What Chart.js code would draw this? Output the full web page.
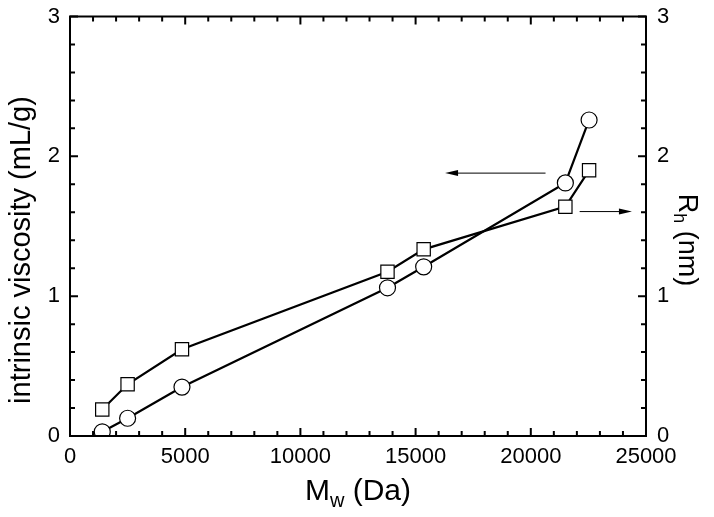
<!DOCTYPE html>
<html>
<head>
<meta charset="utf-8">
<script src="https://cdn.jsdelivr.net/npm/chart.js@4.4.1/dist/chart.umd.min.js"></script>
<style>
  html, body { margin: 0; padding: 0; background: #fff; }
  #wrap { width: 714px; height: 517px; }
</style>
</head>
<body>
<div id="wrap"><canvas id="chart"></canvas></div>
<script>
// intrinsic viscosity (left axis, circles)
var viscMw = [1400, 2500, 4860, 13780, 15350, 21500, 22530];
var viscValues = [0.03, 0.127, 0.35, 1.06, 1.21, 1.81, 2.26];
// hydrodynamic radius (right axis, squares)
var rhMw = [1400, 2500, 4860, 13780, 15350, 21500, 22530];
var rhValues = [0.19, 0.37, 0.62, 1.175, 1.335, 1.64, 1.90];
var xTicks = [0, 5000, 10000, 15000, 20000, 25000];
var yTicks = [0, 1, 2, 3];
// arrows pointing to each series' axis (data units)
var arrowLeft = { x1: 20640, x2: 16280, y: 1.88 };
var arrowRight = { x1: 22120, x2: 24390, y: 1.605 };

var FONT = "'Liberation Sans', Arial, sans-serif";

function toPoints(xs, ys) {
    return xs.map(function (x, i) { return { x: x, y: ys[i] }; });
}

var framePlugin = {
    id: 'frame',
    afterDatasetsDraw: function (chart) {
        var ctx = chart.ctx, a = chart.chartArea;
        var xs = chart.scales.x, ys = chart.scales.y;
        ctx.save();
        ctx.strokeStyle = '#000';
        ctx.lineWidth = 2;
        ctx.strokeRect(a.left, a.top, a.right - a.left, a.bottom - a.top);
        ctx.beginPath();
        var v, p, len;
        for (v = 0; v <= 25000; v += 1000) {
            p = xs.getPixelForValue(v);
            len = v % 5000 === 0 ? 8 : 5;
            ctx.moveTo(p, a.bottom); ctx.lineTo(p, a.bottom - len);
            ctx.moveTo(p, a.top); ctx.lineTo(p, a.top + len);
        }
        for (var k = 0; k <= 15; k++) {
            p = ys.getPixelForValue(k * 0.2);
            len = k % 5 === 0 ? 8 : 5;
            ctx.moveTo(a.left, p); ctx.lineTo(a.left + len, p);
            ctx.moveTo(a.right, p); ctx.lineTo(a.right - len, p);
        }
        ctx.stroke();

        // arrows
        ctx.lineWidth = 1;
        ctx.fillStyle = '#000';
        [arrowLeft, arrowRight].forEach(function (ar) {
            var px1 = xs.getPixelForValue(ar.x1), px2 = xs.getPixelForValue(ar.x2);
            var py = ys.getPixelForValue(ar.y);
            var dir = px2 > px1 ? 1 : -1;
            ctx.beginPath();
            ctx.moveTo(px1, py); ctx.lineTo(px2 - dir * 8, py);
            ctx.stroke();
            ctx.beginPath();
            ctx.moveTo(px2, py);
            ctx.lineTo(px2 - dir * 13, py - 3);
            ctx.lineTo(px2 - dir * 13, py + 3);
            ctx.closePath();
            ctx.fill();
        });

        // axis titles with subscripts
        ctx.fillStyle = '#000';
        ctx.textBaseline = 'alphabetic';
        var big = '30px ' + FONT, small = '20px ' + FONT;
        // x title: M_w (Da)
        ctx.font = big;
        var wM = ctx.measureText('M').width;
        var wRest = ctx.measureText(' (Da)').width;
        ctx.font = small;
        var wSub = ctx.measureText('w').width;
        var tx = (a.left + a.right) / 2 - (wM + wSub + wRest) / 2;
        var ty = 500;
        ctx.font = big; ctx.textAlign = 'left';
        ctx.fillText('M', tx, ty);
        ctx.font = small;
        ctx.fillText('w', tx + wM, ty + 7);
        ctx.font = big;
        ctx.fillText(' (Da)', tx + wM + wSub, ty);

        // left title
        ctx.save();
        ctx.translate(30, 250);
        ctx.rotate(-Math.PI / 2);
        ctx.font = '29px ' + FONT; ctx.textAlign = 'center';
        ctx.fillText('intrinsic viscosity (mL/g)', 0, 0);
        ctx.restore();

        // right title: R_h (nm), rotated clockwise
        var rBig = '27px ' + FONT, rSmall = '18px ' + FONT;
        ctx.save();
        ctx.translate(679, 240);
        ctx.rotate(Math.PI / 2);
        ctx.font = rBig;
        var wR = ctx.measureText('R').width, wNm = ctx.measureText(' (nm)').width;
        ctx.font = rSmall;
        var wH = ctx.measureText('h').width;
        var sx = -(wR + wH + wNm) / 2;
        ctx.textAlign = 'left';
        ctx.font = rBig; ctx.fillText('R', sx, 0);
        ctx.font = rSmall; ctx.fillText('h', sx + wR, 5);
        ctx.font = rBig; ctx.fillText(' (nm)', sx + wR + wH, 0);
        ctx.restore();
        ctx.restore();
    }
};

var tickFont = { family: FONT, size: 22 };
var yTickFont = { family: FONT, size: 22, lineHeight: 0.5 };
function plain(v) { return String(v); }

new Chart(document.getElementById('chart'), {
    type: 'scatter',
    data: {
        datasets: [
            {
                label: 'intrinsic viscosity',
                data: toPoints(viscMw, viscValues),
                yAxisID: 'y',
                showLine: true,
                borderColor: '#000',
                borderWidth: 2.2,
                pointStyle: 'circle',
                pointRadius: 8,
                pointBorderWidth: 1.2,
                pointBackgroundColor: '#fff',
                pointBorderColor: '#000'
            },
            {
                label: 'Rh',
                data: toPoints(rhMw, rhValues),
                yAxisID: 'y2',
                showLine: true,
                borderColor: '#000',
                borderWidth: 2.2,
                pointStyle: 'rect',
                pointRadius: 9.4,
                pointBorderWidth: 1.2,
                pointBackgroundColor: '#fff',
                pointBorderColor: '#000'
            }
        ]
    },
    options: {
        responsive: true,
        maintainAspectRatio: false,
        animation: false,
        layout: { padding: { top: 16 } },
        plugins: { legend: { display: false }, tooltip: { enabled: false } },
        scales: {
            x: {
                type: 'linear', min: 0, max: 25000,
                grid: { display: false, drawTicks: false },
                border: { display: false },
                afterBuildTicks: function (s) { s.ticks = xTicks.map(function (v) { return { value: v }; }); },
                afterFit: function (s) { s.height = 81; },
                ticks: { font: tickFont, color: '#000', padding: 8, maxRotation: 0, autoSkip: false, callback: plain }
            },
            y: {
                type: 'linear', position: 'left', min: 0, max: 3,
                grid: { display: false, drawTicks: false },
                border: { display: false },
                afterBuildTicks: function (s) { s.ticks = yTicks.map(function (v) { return { value: v }; }); },
                afterFit: function (s) { s.width = 70; },
                ticks: { font: yTickFont, color: '#000', padding: 10, callback: plain }
            },
            y2: {
                type: 'linear', position: 'right', min: 0, max: 3,
                grid: { display: false, drawTicks: false },
                border: { display: false },
                afterBuildTicks: function (s) { s.ticks = yTicks.map(function (v) { return { value: v }; }); },
                afterFit: function (s) { s.width = 68; },
                ticks: { font: yTickFont, color: '#000', padding: 11, callback: plain }
            }
        }
    },
    plugins: [framePlugin]
});
</script>
</body>
</html>
